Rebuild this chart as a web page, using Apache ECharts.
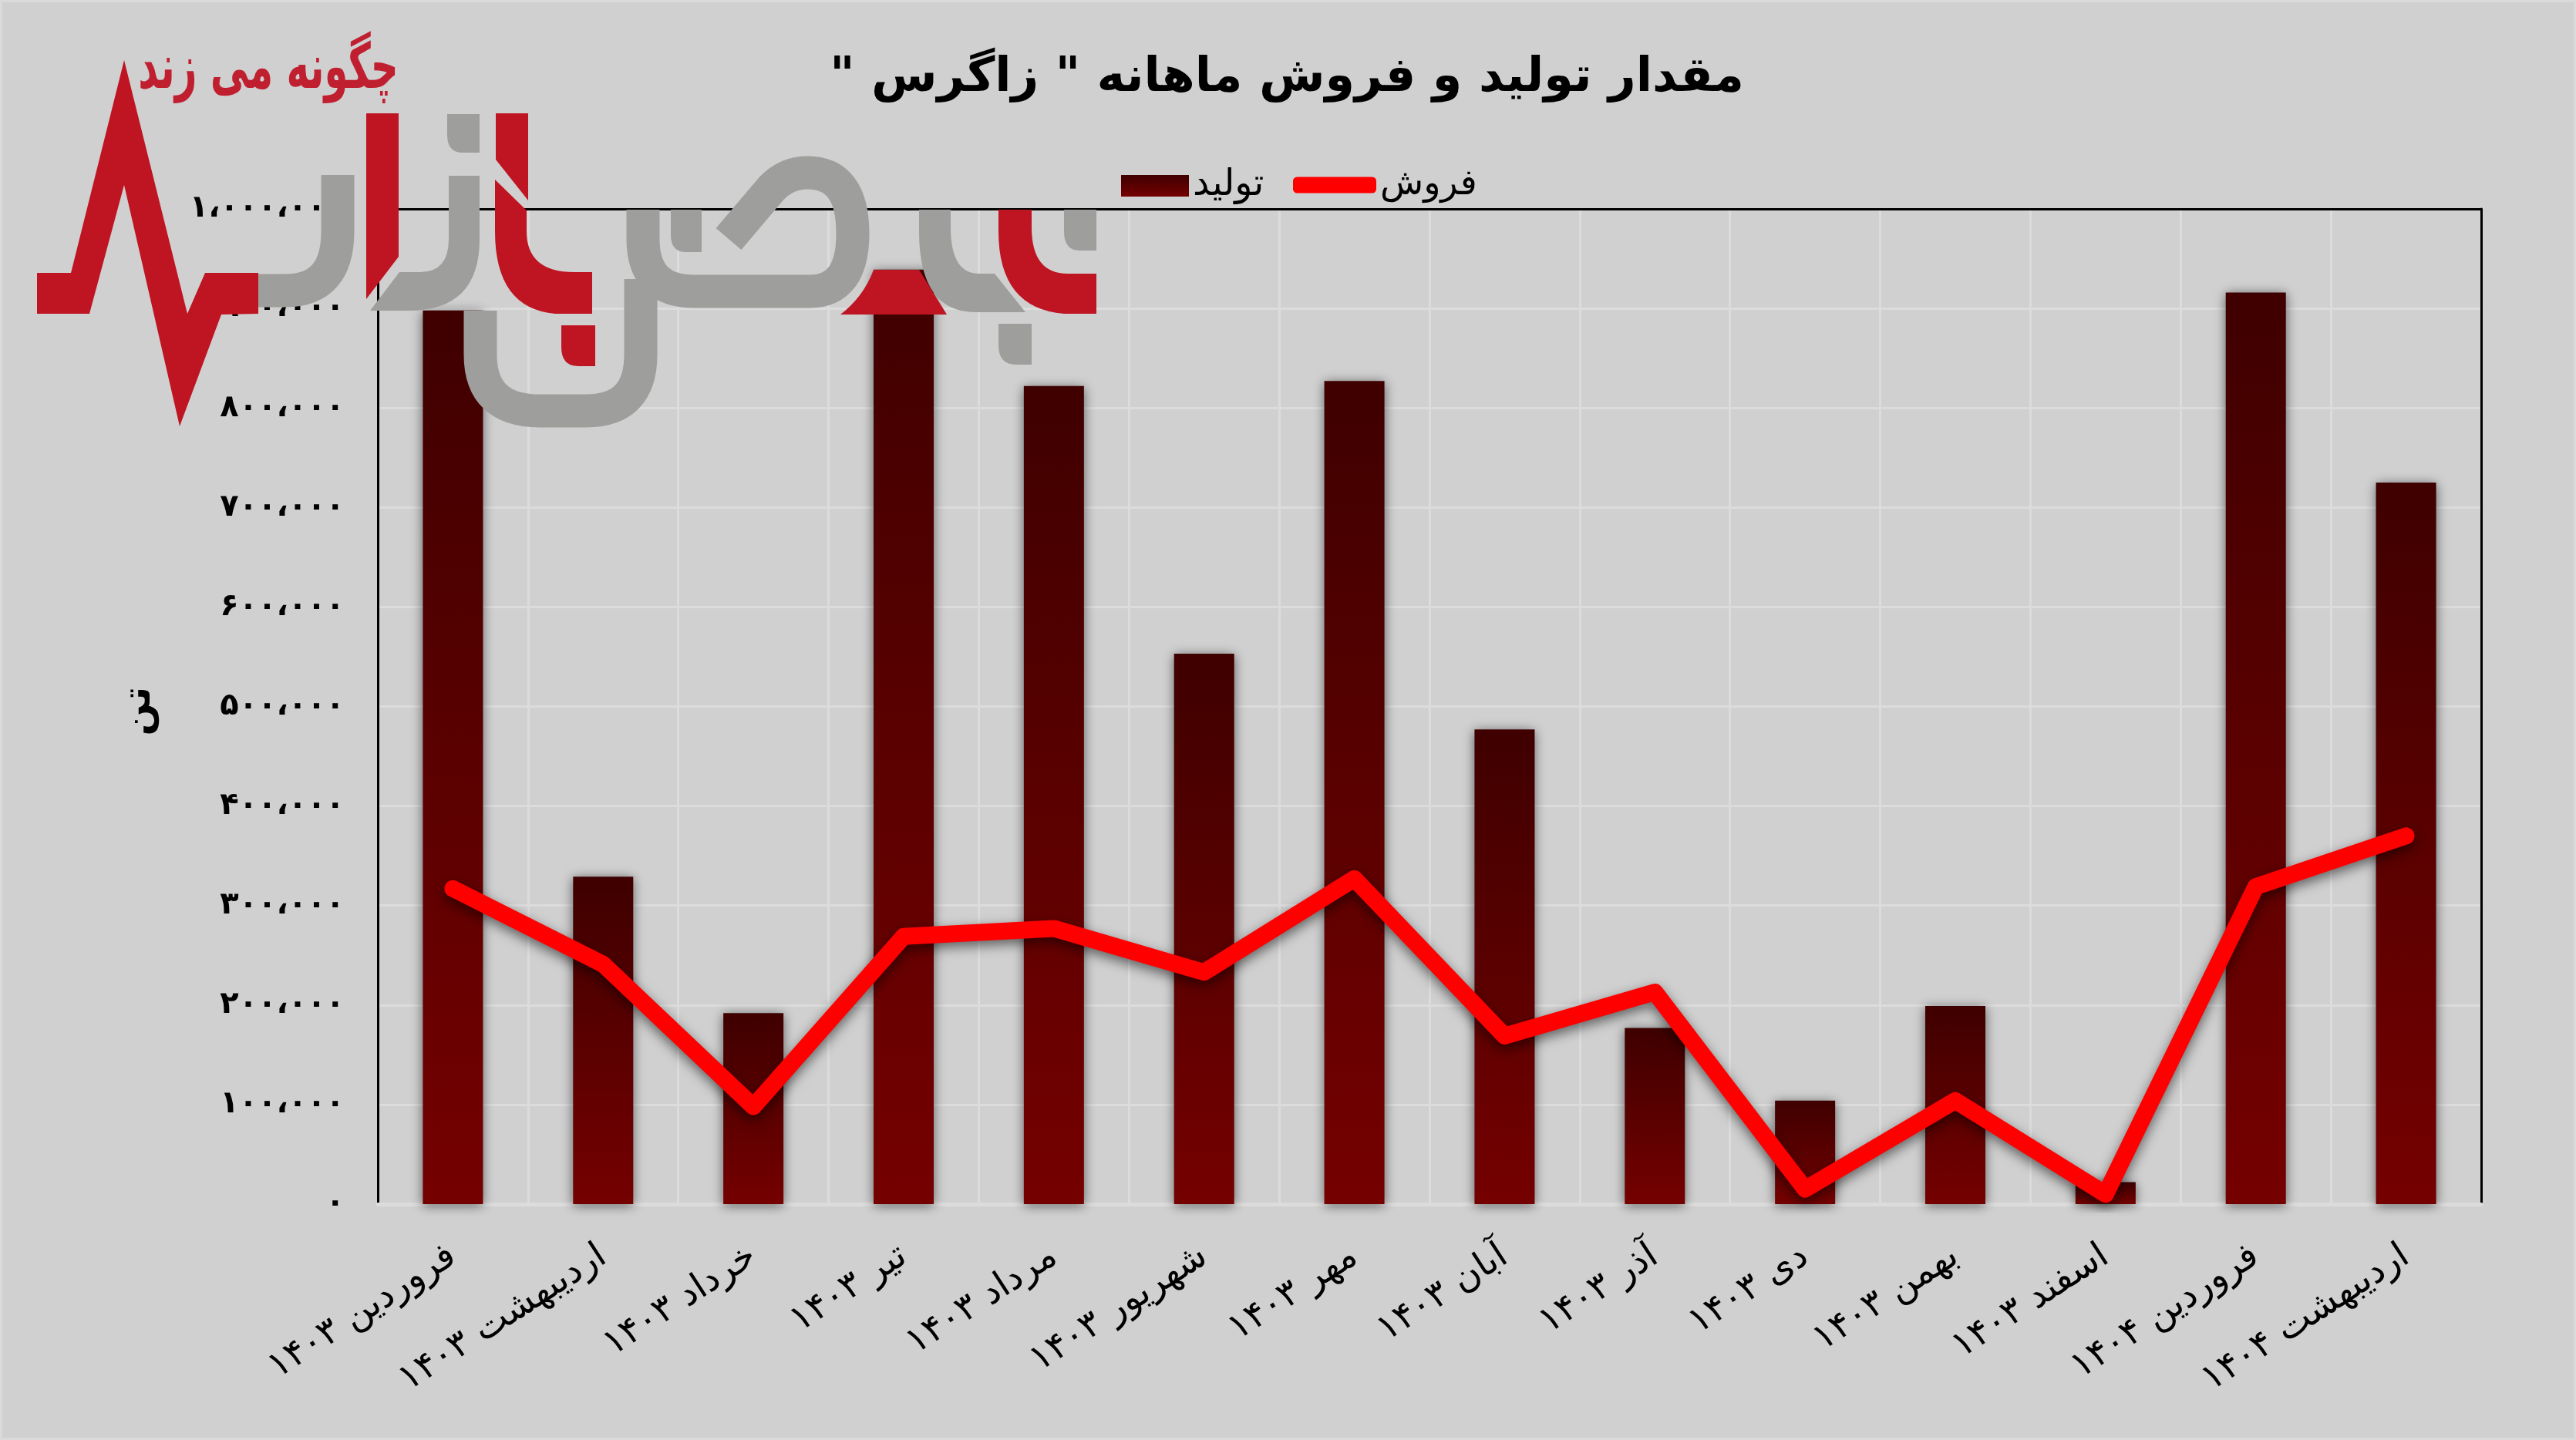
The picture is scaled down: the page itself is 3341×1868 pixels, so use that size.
<!DOCTYPE html>
<html dir="rtl"><head><meta charset="utf-8">
<style>html,body{margin:0;padding:0;background:#d0d0d0}#c{width:3341px;height:1868px}</style>
<script src="https://cdn.jsdelivr.net/npm/echarts@6/dist/echarts.min.js"></script>
</head><body><div id="c"></div>
<script>
const categories=['فروردین ۱۴۰۳','اردیبهشت ۱۴۰۳','خرداد ۱۴۰۳','تیر ۱۴۰۳','مرداد ۱۴۰۳','شهریور ۱۴۰۳','مهر ۱۴۰۳','آبان ۱۴۰۳','آذر ۱۴۰۳','دی ۱۴۰۳','بهمن ۱۴۰۳','اسفند ۱۴۰۳','فروردین ۱۴۰۴','اردیبهشت ۱۴۰۴'];
const production=[898000,329000,192000,939000,822000,553000,827000,477000,177000,104000,199000,22000,916000,725000];
const sales=[317000,241000,98000,269000,277000,233000,327000,169000,213000,15000,104000,10000,319000,370000];
const yTickLabels=['۰','۱۰۰،۰۰۰','۲۰۰،۰۰۰','۳۰۰،۰۰۰','۴۰۰،۰۰۰','۵۰۰،۰۰۰','۶۰۰،۰۰۰','۷۰۰،۰۰۰','۸۰۰،۰۰۰','۹۰۰،۰۰۰','۱،۰۰۰،۰۰۰'];
const titleText='مقدار تولید و فروش ماهانه " زاگرس "';
const FONT='"DejaVu Sans"';
const RED='#bf1522',GREY='#9e9e9c';
const logoFills=[
 [RED,'M48 354 L92 354 L161 78 L243 407 L266 354 L335 354 L335 407 L287 408 L233 553 L161 240 L116 407 L48 407 Z'],
 [RED,'M475 147 H517 V333 L475 388 Z'],
 [GREY,'M582 228 H622 V310 Q622 403 530 403 H480 L518 353 H545 Q582 353 582 310 Z'],
 [GREY,'M580 148 H622 V198 H600 Q580 198 580 175 Z'],
 [RED,'M643 147 H685 V260 L643 207 Z'],
 [RED,'M642 233 L683 273 V300 Q683 353 745 353 H768 V407 H720 Q642 400 642 300 Z'],
 [RED,'M728 422 H772 V475 H750 Q728 475 728 450 Z'],
 [GREY,'M870 272 H910 V327 H890 Q870 327 870 305 Z'],
 [RED,'M1133 350 H1192 L1228 408 H1090 Q1120 385 1133 350 Z'],
 [GREY,'M1192 272 H1233 V295 Q1233 355 1270 355 H1290 L1330 405 H1265 Q1192 405 1192 300 Z'],
 [RED,'M1295 272 H1338 V295 Q1338 355 1385 355 H1422 V407 H1380 Q1295 400 1295 300 Z'],
 [GREY,'M1380 272 H1422 V325 H1400 Q1380 325 1380 300 Z'],
 [GREY,'M1295 420 H1338 V473 H1318 Q1295 473 1295 448 Z']
];
const logoStrokes=[
 'M438 227 V300 Q438 377 370 377 H335',
 'M623 403 V460 Q623 533 700 533 H760 Q831 533 831 460 V362',
 'M834 272 V310 Q834 378 900 378 H1050 Q1106 378 1106 303 Q1106 224 1047 224 Q1020 224 1000 245 L945 310'
];
const chart=echarts.init(document.getElementById('c'),null,{renderer:'canvas',width:3341,height:1868});
const tick={fontFamily:FONT,color:'#000'};
chart.setOption({
 animation:false,
 backgroundColor:'#d0d0d0',
 title:{text:titleText,left:1664,top:66,textAlign:'center',textStyle:{fontFamily:FONT,fontWeight:'bold',fontSize:62,color:'#000'}},
 legend:[
  {data:['تولید'],left:1449,top:212,itemWidth:88,itemHeight:28,itemGap:0,textStyle:{fontFamily:FONT,fontSize:48,color:'#000',padding:[16,0,0,0]},icon:'rect'},
  {data:['فروش'],left:1672,top:212,itemWidth:108,itemHeight:21,itemGap:0,textStyle:{fontFamily:FONT,fontSize:46,color:'#000',padding:[16,0,0,0]},icon:'roundRect'}
 ],
 grid:{left:490,top:271,width:2728,height:1291,containLabel:false},
 xAxis:[
  {type:'category',data:categories,position:'bottom',
   axisLine:{onZero:false,lineStyle:{color:'#dcdcdc',width:5}},axisTick:{show:false},
   splitLine:{show:true,lineStyle:{color:'#dcdcdc',width:3}},
   axisLabel:{...tick,fontSize:47,rotate:33,margin:64,interval:0}},
  {type:'category',data:categories,position:'top',axisLine:{onZero:false,lineStyle:{color:'#000',width:3}},axisTick:{show:false},axisLabel:{show:false},splitLine:{show:false}}
 ],
 yAxis:[
  {type:'value',min:0,max:1000000,interval:100000,position:'left',
   name:'تن',nameLocation:'middle',nameGap:284,nameRotate:90,nameTextStyle:{fontFamily:FONT,fontWeight:'bold',fontSize:50,color:'#000',padding:[0,12,0,0]},
   axisLine:{show:true,lineStyle:{color:'#000',width:3}},axisTick:{show:false},
   splitLine:{show:true,lineStyle:{color:'#dcdcdc',width:3}},
   axisLabel:{...tick,fontWeight:'bold',fontSize:40,margin:43,padding:[8,0,0,0],formatter:v=>yTickLabels[Math.round(v/100000)]}},
  {type:'value',min:0,max:1000000,interval:100000,position:'right',
   axisLine:{show:true,lineStyle:{color:'#000',width:3}},axisTick:{show:false},splitLine:{show:false},axisLabel:{show:false}}
 ],
 series:[
  {name:'تولید',type:'bar',data:production,barWidth:78,z:2,
   itemStyle:{color:new echarts.graphic.LinearGradient(0,0,0,1,[{offset:0,color:'#3f0000'},{offset:1,color:'#750000'}]),shadowBlur:14,shadowColor:'rgba(0,0,0,0.55)',shadowOffsetY:2}},
  {name:'فروش',type:'line',data:sales,symbol:'none',z:4,
   lineStyle:{color:'#ff0000',width:22,cap:'round',join:'round',shadowBlur:16,shadowColor:'rgba(0,0,0,0.55)',shadowOffsetY:6},
   itemStyle:{color:'#ff0000'}},
  {type:'custom',coordinateSystem:'none',silent:true,z:10,data:[[0]],
   renderItem:()=>({type:'group',children:[
     {type:'rect',shape:{x:0,y:0,width:3341,height:1868},style:{fill:'none',stroke:'#dadada',lineWidth:6}},
     ...logoStrokes.map(p=>({type:'path',shape:{pathData:p},style:{fill:'none',stroke:GREY,lineWidth:43}})),
     ...logoFills.map(([c,p])=>({type:'path',shape:{pathData:p},style:{fill:c}})),
     {type:'text',x:348,y:93,scaleX:0.86,scaleY:1.4,style:{text:'چگونه می زند',x:0,y:0,align:'center',verticalAlign:'middle',fill:'#c01f30',font:'bold 58px '+FONT}}
   ]})}
 ]
});
</script></body></html>
